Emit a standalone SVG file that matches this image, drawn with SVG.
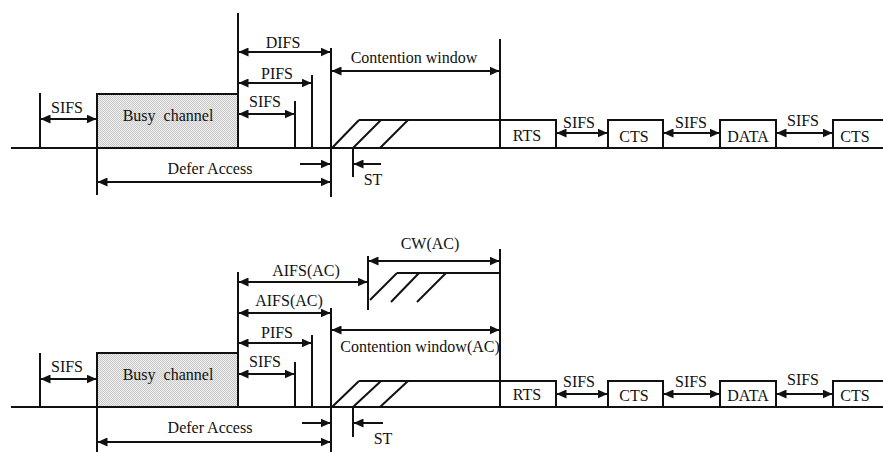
<svg xmlns="http://www.w3.org/2000/svg" width="883" height="452" viewBox="0 0 883 452">
<style>
.ln{stroke:#111;stroke-width:2;fill:none}
.ar{stroke:#111;stroke-width:2;fill:none;marker-end:url(#ah)}
.da{stroke:#111;stroke-width:2;fill:none;marker-start:url(#ah);marker-end:url(#ah)}
.bx{stroke:#111;stroke-width:2;fill:#fff}
.busy{stroke:#111;stroke-width:2;fill:url(#dots)}
text{font-family:"Liberation Serif","Times New Roman",serif;font-size:16px;fill:#111;text-anchor:middle}
</style>
<defs>
<marker id="ah" viewBox="0 0 10 9" refX="9.5" refY="4.5" markerWidth="10" markerHeight="9" markerUnits="userSpaceOnUse" orient="auto-start-reverse">
<path d="M0,0 L10,4.5 L0,9 z" fill="#111"/>
</marker>
<pattern id="dots" width="2" height="2" patternUnits="userSpaceOnUse">
<rect width="2" height="2" fill="#efefef"/>
<rect width="1" height="1" fill="#c8c8c8"/>
<rect x="1" y="1" width="1" height="1" fill="#c8c8c8"/>
</pattern>
</defs>

<g id="connectors">
<!-- TOP DIAGRAM -->
<line class="ln" x1="11" y1="148" x2="883" y2="148"/>
<line class="ln" x1="40" y1="93" x2="40" y2="148"/>
<line class="ln" x1="238" y1="13" x2="238" y2="94"/>
<line class="ln" x1="97" y1="148" x2="97" y2="195"/>
<line class="ln" x1="295" y1="101" x2="295" y2="148"/>
<line class="ln" x1="312" y1="75" x2="312" y2="148"/>
<line class="ln" x1="331" y1="48" x2="331" y2="197"/>
<line class="ln" x1="500" y1="39" x2="500" y2="148"/>
<line class="ln" x1="359" y1="120" x2="500" y2="120"/>
<line class="ln" x1="332" y1="148" x2="359" y2="120"/>
<line class="ln" x1="353" y1="148" x2="381" y2="120"/>
<line class="ln" x1="380" y1="148" x2="408" y2="120"/>
<line class="ln" x1="353" y1="148" x2="353" y2="177"/>
<line class="ar" x1="381" y1="164" x2="354" y2="164"/>
<line class="ar" x1="300" y1="164" x2="330" y2="164"/>
<line class="da" x1="98" y1="182" x2="330" y2="182"/>
<line class="da" x1="41" y1="119" x2="96" y2="119"/>
<line class="da" x1="239" y1="52" x2="330" y2="52"/>
<line class="da" x1="239" y1="83" x2="311" y2="83"/>
<line class="da" x1="239" y1="114" x2="294" y2="114"/>
<line class="da" x1="332" y1="71" x2="499" y2="71"/>
<line class="da" x1="557" y1="133" x2="607" y2="133"/>
<line class="da" x1="664" y1="133" x2="719" y2="133"/>
<line class="da" x1="777" y1="133" x2="832" y2="133"/>

<!-- BOTTOM DIAGRAM -->
<line class="ln" x1="11" y1="407" x2="883" y2="407"/>
<line class="ln" x1="40" y1="353" x2="40" y2="407"/>
<line class="ln" x1="238" y1="272" x2="238" y2="353"/>
<line class="ln" x1="97" y1="407" x2="97" y2="452"/>
<line class="ln" x1="368" y1="256" x2="368" y2="310"/>
<line class="ln" x1="397" y1="273" x2="500" y2="273"/>
<line class="ln" x1="370" y1="300" x2="397" y2="273"/>
<line class="ln" x1="391" y1="302" x2="419" y2="273"/>
<line class="ln" x1="417" y1="302" x2="446" y2="273"/>
<line class="ln" x1="500" y1="249" x2="500" y2="407"/>
<line class="ln" x1="331" y1="308" x2="331" y2="452"/>
<line class="ln" x1="312" y1="335" x2="312" y2="407"/>
<line class="ln" x1="295" y1="362" x2="295" y2="407"/>
<line class="ln" x1="359" y1="381" x2="500" y2="381"/>
<line class="ln" x1="332" y1="407" x2="359" y2="381"/>
<line class="ln" x1="353" y1="407" x2="381" y2="381"/>
<line class="ln" x1="380" y1="407" x2="408" y2="381"/>
<line class="ln" x1="353" y1="407" x2="353" y2="437"/>
<line class="ar" x1="383" y1="423" x2="354" y2="423"/>
<line class="ar" x1="302" y1="423" x2="330" y2="423"/>
<line class="da" x1="98" y1="442" x2="330" y2="442"/>
<line class="da" x1="41" y1="379" x2="96" y2="379"/>
<line class="da" x1="239" y1="282" x2="367" y2="282"/>
<line class="da" x1="369" y1="261" x2="499" y2="261"/>
<line class="da" x1="239" y1="313" x2="330" y2="313"/>
<line class="da" x1="239" y1="343" x2="311" y2="343"/>
<line class="da" x1="239" y1="374" x2="294" y2="374"/>
<line class="da" x1="332" y1="330" x2="499" y2="330"/>
<line class="da" x1="557" y1="394" x2="607" y2="394"/>
<line class="da" x1="664" y1="394" x2="719" y2="394"/>
<line class="da" x1="777" y1="394" x2="832" y2="394"/>
</g>

<!-- TOP nodes -->
<g id="busy-top"><rect class="busy" x="97" y="94" width="141" height="54"/><text x="168" y="121" word-spacing="4">Busy channel</text></g>
<g id="rts-top"><rect class="bx" x="500" y="120" width="56" height="28"/><text x="527" y="141">RTS</text></g>
<g id="cts1-top"><rect class="bx" x="608" y="120" width="55" height="28"/><text x="634" y="142">CTS</text></g>
<g id="data-top"><rect class="bx" x="720" y="120" width="56" height="28"/><text x="748" y="142">DATA</text></g>
<g id="cts2-top"><path class="ln" d="M884,120 H833 V148"/><text x="855" y="142">CTS</text></g>
<g id="labels-top">
<text x="67" y="113">SIFS</text>
<text x="283" y="48">DIFS</text>
<text x="277" y="79">PIFS</text>
<text x="265" y="107">SIFS</text>
<text x="210" y="174">Defer Access</text>
<text x="414" y="63">Contention window</text>
<text x="373" y="185">ST</text>
<text x="579" y="128">SIFS</text>
<text x="691" y="128">SIFS</text>
<text x="803" y="126">SIFS</text>
</g>

<!-- BOTTOM nodes -->
<g id="busy-bottom"><rect class="busy" x="97" y="353" width="141" height="54"/><text x="168" y="380" word-spacing="4">Busy channel</text></g>
<g id="rts-bottom"><rect class="bx" x="500" y="381" width="56" height="26"/><text x="527" y="400">RTS</text></g>
<g id="cts1-bottom"><rect class="bx" x="608" y="381" width="55" height="26"/><text x="634" y="401">CTS</text></g>
<g id="data-bottom"><rect class="bx" x="720" y="381" width="56" height="26"/><text x="748" y="401">DATA</text></g>
<g id="cts2-bottom"><path class="ln" d="M884,381 H833 V407"/><text x="855" y="401">CTS</text></g>
<g id="labels-bottom">
<text x="67" y="372">SIFS</text>
<text x="306" y="276">AIFS(AC)</text>
<text x="289" y="306">AIFS(AC)</text>
<text x="277" y="338">PIFS</text>
<text x="265" y="367">SIFS</text>
<text x="210" y="433">Defer Access</text>
<text x="430" y="249">CW(AC)</text>
<text x="420" y="352">Contention window(AC)</text>
<text x="383" y="444">ST</text>
<text x="579" y="387">SIFS</text>
<text x="691" y="387">SIFS</text>
<text x="803" y="385">SIFS</text>
</g>
</svg>
